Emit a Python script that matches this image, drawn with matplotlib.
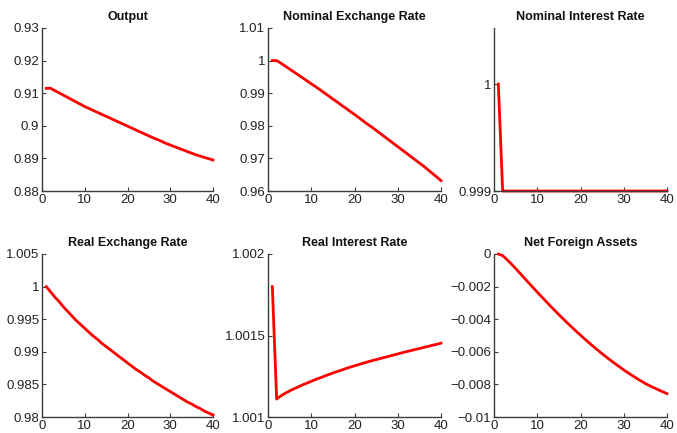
import matplotlib
matplotlib.use("Agg")
import matplotlib.pyplot as plt

plt.rcParams['font.family'] = ['Liberation Sans', 'DejaVu Sans']

periods = list(range(1, 41))

output = [0.9115, 0.9115, 0.9108, 0.9101, 0.9094, 0.9087, 0.9080, 0.9073, 0.9066, 0.9059,
          0.9053, 0.9047, 0.9041, 0.9035, 0.9029, 0.9023, 0.9017, 0.9011, 0.9005, 0.8999,
          0.8993, 0.8987, 0.8981, 0.8975, 0.8969, 0.8963, 0.8958, 0.8952, 0.8946, 0.8941,
          0.8936, 0.8931, 0.8926, 0.8921, 0.8916, 0.8911, 0.8907, 0.8903, 0.8899, 0.8895]

nominal_fx = [1.0000, 1.0000, 0.9992, 0.9983, 0.9974, 0.9965, 0.9956, 0.9947, 0.9938, 0.9929,
              0.9920, 0.9911, 0.9901, 0.9892, 0.9882, 0.9873, 0.9863, 0.9854, 0.9844, 0.9835,
              0.9825, 0.9815, 0.9805, 0.9796, 0.9786, 0.9776, 0.9766, 0.9756, 0.9746, 0.9736,
              0.9726, 0.9716, 0.9706, 0.9696, 0.9686, 0.9676, 0.9665, 0.9654, 0.9643, 0.9632]

nominal_rate = [1.000, 0.999, 0.999, 0.999, 0.999, 0.999, 0.999, 0.999, 0.999, 0.999,
                0.999, 0.999, 0.999, 0.999, 0.999, 0.999, 0.999, 0.999, 0.999, 0.999,
                0.999, 0.999, 0.999, 0.999, 0.999, 0.999, 0.999, 0.999, 0.999, 0.999,
                0.999, 0.999, 0.999, 0.999, 0.999, 0.999, 0.999, 0.999, 0.999, 0.999]

real_fx = [1.0000, 0.9992, 0.9984, 0.9977, 0.9969, 0.9962, 0.9955, 0.9948, 0.9942, 0.9936,
           0.9930, 0.9924, 0.9919, 0.9913, 0.9908, 0.9903, 0.9898, 0.9893, 0.9888, 0.9883,
           0.9878, 0.9873, 0.9869, 0.9864, 0.9860, 0.9855, 0.9851, 0.9847, 0.9843, 0.9839,
           0.9835, 0.9831, 0.9827, 0.9823, 0.9820, 0.9816, 0.9813, 0.9809, 0.9806, 0.9803]

real_rate = [1.001800, 1.001110, 1.001130, 1.001146, 1.001160, 1.001173, 1.001185, 1.001197,
             1.001208, 1.001219, 1.001230, 1.001240, 1.001250, 1.001260, 1.001270, 1.001279,
             1.001288, 1.001297, 1.001306, 1.001314, 1.001322, 1.001330, 1.001338, 1.001345,
             1.001352, 1.001359, 1.001366, 1.001373, 1.001380, 1.001387, 1.001394, 1.001401,
             1.001407, 1.001414, 1.001420, 1.001427, 1.001433, 1.001440, 1.001446, 1.001453]

nfa = [0.00000, -0.00010, -0.00034, -0.00061, -0.00089, -0.00118, -0.00147, -0.00176, -0.00205, -0.00234,
       -0.00262, -0.00290, -0.00318, -0.00345, -0.00372, -0.00398, -0.00424, -0.00449, -0.00474, -0.00498,
       -0.00522, -0.00545, -0.00568, -0.00590, -0.00612, -0.00633, -0.00653, -0.00673, -0.00692, -0.00711,
       -0.00729, -0.00746, -0.00763, -0.00779, -0.00795, -0.00808, -0.00821, -0.00833, -0.00845, -0.00857]

titles = ["Output", "Nominal Exchange Rate", "Nominal Interest Rate",
          "Real Exchange Rate", "Real Interest Rate", "Net Foreign Assets"]

x_ticks = [0, 10, 20, 30, 40]

yticks_output = [0.88, 0.89, 0.90, 0.91, 0.92, 0.93]
ylabels_output = ["0.88", "0.89", "0.9", "0.91", "0.92", "0.93"]
yticks_nfx = [0.96, 0.97, 0.98, 0.99, 1.00, 1.01]
ylabels_nfx = ["0.96", "0.97", "0.98", "0.99", "1", "1.01"]
yticks_nrate = [0.999, 1.000]
ylabels_nrate = ["0.999", "1"]
yticks_rfx = [0.980, 0.985, 0.990, 0.995, 1.000, 1.005]
ylabels_rfx = ["0.98", "0.985", "0.99", "0.995", "1", "1.005"]
yticks_rrate = [1.001, 1.0015, 1.002]
ylabels_rrate = ["1.001", "1.0015", "1.002"]
yticks_nfa = [-0.010, -0.008, -0.006, -0.004, -0.002, 0.0]
ylabels_nfa = ["\u22120.01", "\u22120.008", "\u22120.006", "\u22120.004", "\u22120.002", "0"]

panels = [
    (output, yticks_output, ylabels_output, (0.88, 0.93)),
    (nominal_fx, yticks_nfx, ylabels_nfx, (0.96, 1.01)),
    (nominal_rate, yticks_nrate, ylabels_nrate, (0.999, 1.000525)),
    (real_fx, yticks_rfx, ylabels_rfx, (0.98, 1.005)),
    (real_rate, yticks_rrate, ylabels_rrate, (1.001, 1.002)),
    (nfa, yticks_nfa, ylabels_nfa, (-0.010, 0.0)),
]

W, H = 677, 433
fig = plt.figure(figsize=(W / 100, H / 100), dpi=100)

lefts = [42, 268, 494]
widths = [171, 173, 173]
tops = [28, 254]
height = 163

for i, (series, yt, yl, ylim) in enumerate(panels):
    row, col = divmod(i, 3)
    rect = [lefts[col] / W, 1 - (tops[row] + height) / H, widths[col] / W, height / H]
    ax = fig.add_axes(rect)
    ax.plot(periods, series, color="#ff0000", lw=2.0, clip_on=False, solid_joinstyle="round")
    ax.set_xlim(0, 40)
    ax.set_ylim(*ylim)
    ax.set_xticks(x_ticks)
    ax.set_yticks(yt)
    ax.set_yticklabels(yl)
    for side in ("top", "right"):
        ax.spines[side].set_visible(False)
    for side in ("left", "bottom"):
        ax.spines[side].set_color("#3c3c3c")
        ax.spines[side].set_linewidth(1.0)
    ax.tick_params(direction="in", length=3, width=0.8, color="#3c3c3c",
                   labelsize=9.5, labelcolor="#222222", pad=2)
    ax.set_title(titles[i], fontsize=9, fontweight="bold", pad=6, color="#111111")

fig.savefig("out.png", dpi=100)
